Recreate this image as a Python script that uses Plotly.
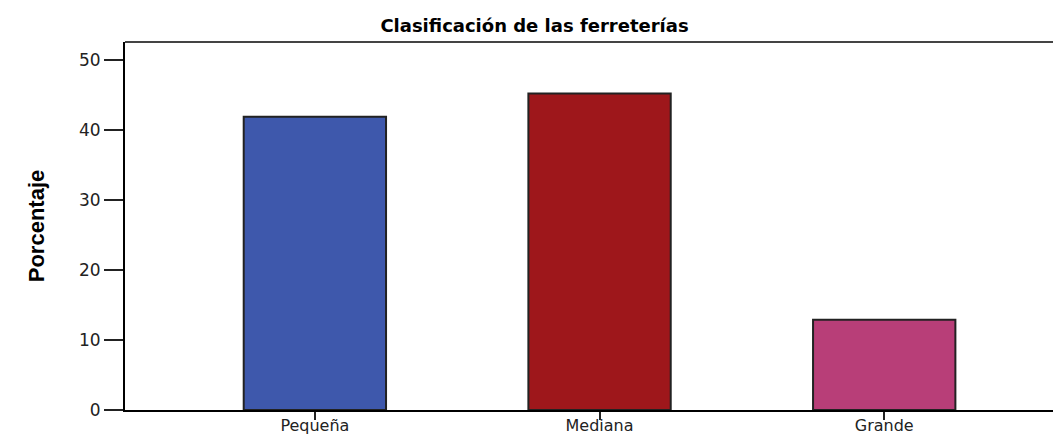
import plotly.graph_objects as go

categories = ["Pequeña", "Mediana", "Grande"]
values = [41.9, 45.2, 12.9]
colors = ["#3E58AC", "#9E171B", "#B83E78"]
y_ticks = [0, 10, 20, 30, 40, 50]

fig = go.Figure()
fig.add_trace(go.Bar(
    x=categories, y=values, width=0.5,
    marker=dict(color=colors, line=dict(color="#222222", width=2)),
))

# page body has an 8px margin, so the figure is shifted by 8px
fig.update_layout(
    width=1053, height=430,
    margin=dict(l=117, r=0, t=34, b=28),
    paper_bgcolor="white", plot_bgcolor="white",
    showlegend=False,
    title=dict(text="<b>Clasificación de las ferreterías</b>", x=0.5, xanchor="center",
               y=0.958, yanchor="middle",
               font=dict(family="DejaVu Sans", size=18, color="black")),
    font=dict(family="DejaVu Sans", size=16, color="#222222"),
)
fig.update_xaxes(
    range=[-0.667, 2.621], showline=True, linecolor="black", linewidth=1.5,
    ticks="outside", ticklen=8, tickwidth=2, tickcolor="#222222",
    showgrid=False, zeroline=False, tickfont=dict(size=16), automargin=False,
    ticklabelstandoff=-8,
)
fig.update_yaxes(
    range=[0, 52.57], tickvals=y_ticks, showline=True, linecolor="black", linewidth=2,
    ticks="outside", ticklen=19, tickwidth=2, tickcolor="#222222",
    showgrid=False, zeroline=False, tickfont=dict(size=17), automargin=False,
    title=dict(text="<b>Porcentaje</b>", standoff=28,
               font=dict(family="Liberation Sans", size=22, color="black")),
)
fig.add_shape(type="line", xref="paper", yref="paper", x0=0, x1=1, y0=1, y1=1,
              line=dict(color="#444444", width=2))

fig.write_html("out.html")
